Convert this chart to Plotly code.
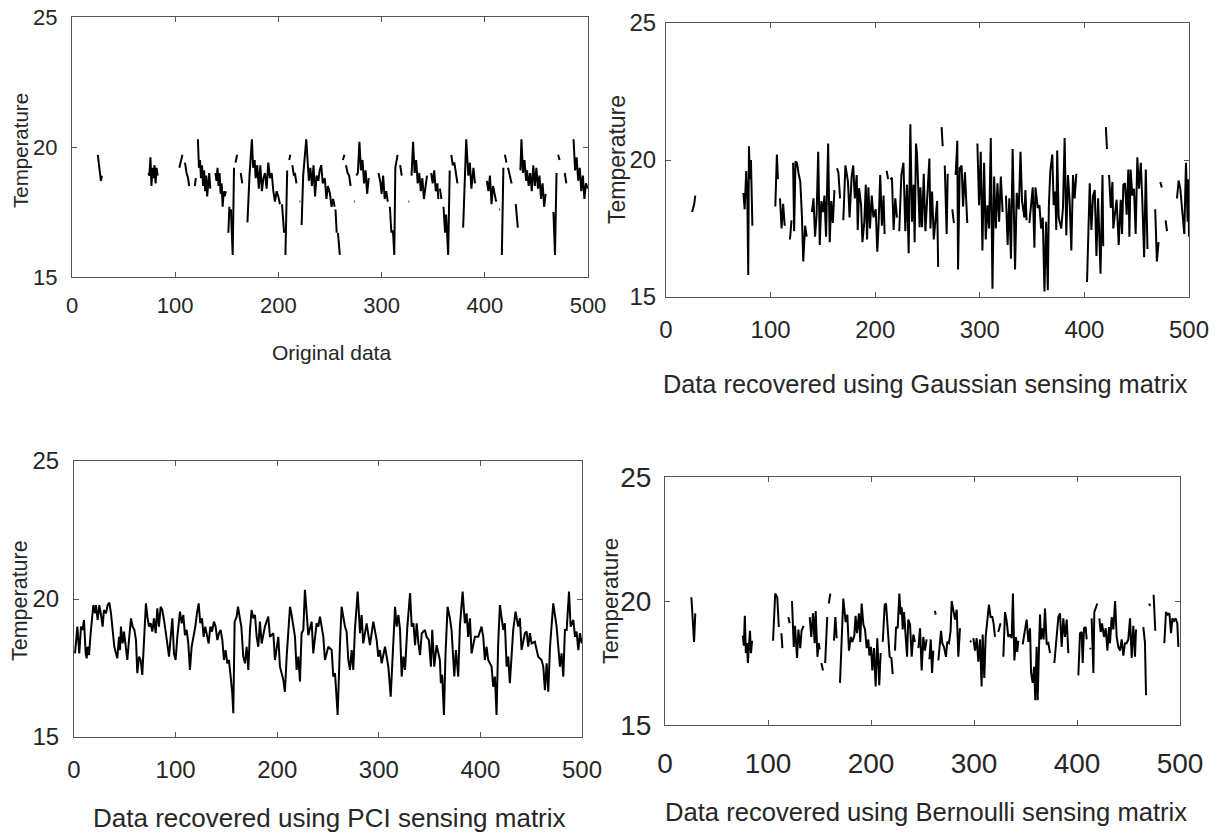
import plotly.graph_objects as go

# ---------------- data (x = sample index, y = temperature) ----------------
orig_pts = [
 (25,19.7),(26,19.4),(27,19.0),(28,18.7),(29,18.9),None,
 (74,19.0),(75,18.9),(76,19.6),(77,18.5),(78,19.2),(79,18.8),(80,19.3),(81,18.6),(82,19.2),(83,18.9),None,
 (104,19.2),(106,19.5),(107,19.7),None,
 (109.5,19.4),(111,19.0),(112.5,18.8),(113.5,18.5),None,
 (119,18.5),(120,18.8),None,
 (122,20.3),(123,19.2),(124,19.5),(125,18.8),(126,19.3),(127,18.5),(128,19.1),(129,18.3),(130,18.9),(131,18.1),(132,18.6),(133,19.0),(134,18.4),None,
 (139,19.0),(140,18.7),(141,19.2),(142,18.5),(143,19.0),(144,18.2),(145,18.6),(146,17.7),(147,18.3),(148,18.1),(149,18.3),None,
 (151.5,16.7),(152.5,17.7),None,
 (154,17.6),(155.7,15.85),(157,19.2),None,
 (158.5,19.4),(160,19.7),None,
 (163.5,19.0),(165,18.6),None,
 (170,17.1),(172,18.9),(174.3,20.3),(175.5,19.2),(177,19.5),(178,18.8),(179.5,19.3),(181,18.4),(182.5,19.3),(184,18.3),(185.5,18.8),(187,19.0),(188.6,18.4),(190.2,19.4),(191.8,18.8),(193.5,19.0),(195.1,18.3),(196.7,17.9),(198.3,18.3),(199.9,18.1),(201.5,17.8),None,
 (203.5,17.8),(205.5,16.7),None,
 (206.8,15.85),(208.5,19.1),None,
 (210.5,19.5),(211.5,19.7),None,
 (213.5,19.3),(215,18.9),(216,19.0),(217.5,18.6),None,
 (220.5,17.9),(221.2,17.9),None,
 (222.5,17.0),(224,18.9),(227,20.3),(228,19.4),(229.5,18.7),(231,19.2),(232.5,18.5),(234,19.3),(235.5,18.1),(237,18.9),(238.7,18.7),(240,19.1),(241.5,19.3),(243,18.6),(245,18.8),(246.5,18.0),(248,18.5),(250,18.2),(251.5,17.7),(253,18.0),(254.5,17.7),None,
 (255.3,17.6),(256.5,16.7),None,
 (257.7,16.7),(259.5,15.85),None,
 (262.5,19.5),(264,19.7),None,
 (265.5,19.3),(267,19.0),(268.5,18.9),(270,18.5),None,
 (273.3,17.9),(274,17.9),None,
 (275.5,18.9),(277,19.0),(278.5,20.2),(280,19.1),(281.5,19.5),(283,18.6),(284.5,19.1),(286,18.2),(287.5,18.8),None,
 (297,19.0),(299,18.6),(300,18.2),(301.5,18.9),(303,18.0),(304.5,18.3),(306,17.9),None,
 (308,17.7),(309.5,16.7),None,
 (311,16.8),(312.3,15.85),(313.3,19.2),(315.5,19.7),None,
 (318,19.3),(319.5,18.9),None,
 (326,17.9),(326.7,17.9),None,
 (329,18.9),(330.5,20.2),(332,19.0),(333.5,19.5),(335,18.6),(336.5,19.0),(338,18.3),(339.5,18.8),(341,18.0),(342.5,18.5),(344,18.9),None,
 (348,19.0),(349.5,18.6),(351,19.1),(352.5,18.3),(354,18.6),(355,18.0),None,
 (356.5,18.4),(358,18.0),None,
 (360,17.7),(361.5,16.7),(362.5,17.4),(364.5,15.85),(366,19.1),None,
 (367.5,19.7),(369,19.3),(370.5,19.4),(372,18.9),(373.5,18.6),None,
 (379,16.9),(380.5,18.9),(382,20.3),(384,18.9),(385.5,19.4),(387,18.4),(389,19.2),(390.5,18.6),None,
 (402,18.7),(403.5,18.3),(405,18.9),(406.5,17.8),(408,18.5),(409.5,18.2),(411,17.9),None,
 (414,17.6),(414.7,17.6),None,
 (416.5,15.85),(418,19.2),None,
 (419.5,19.7),(421,19.4),None,
 (422.5,19.2),(424,18.9),(426,18.6),None,
 (430,17.8),(432,16.9),None,
 (434.5,19.1),(435.5,20.3),(437,19.0),(438.5,19.5),(440,18.7),(441,19.1),(442.5,18.5),(444,19.0),(445.5,18.3),(447,19.3),(448.5,18.5),(450,19.2),(451.5,18.4),(453,18.9),(454.5,18.0),(456,18.6),(457.5,17.7),(459,18.2),None,
 (466.5,17.5),(468,15.85),(469.5,19.0),None,
 (471,19.7),(472.5,19.5),None,
 (477.5,19.0),(479,18.6),None,
 (486,20.3),(487.5,19.1),(489,19.6),(490.5,18.7),(492,19.2),(493.5,18.3),(495,18.9),(496.5,18.0),(498,18.6),(500,18.4),
]

gauss_pts = [
 (25,18.1),(27,18.4),(28,18.7),None,
 (74,18.8),(75.2,18.2),(76.7,19.6),(77.8,18.5),(78.6,15.8),(79.3,20.5),(80.3,19.3),(81.2,20.0),(82.6,17.6),None,
 (104.5,18.3),(106,20.2),(107,19.3),None,
 (109,18.6),(110.5,17.5),(112,18.4),(113.5,17.6),None,
 (118.5,17.1),(120,17.8),None,
 (121.5,19.9),(122.5,17.4),(123.8,19.95),(125.2,19.9),(126.8,19.5),(128.4,19.2),(130,17.9),(131.2,16.3),(133,17.6),(134.5,17.2),None,
 (139.5,18.1),(141,18.6),(142.5,17.2),(144,18.0),(145.5,20.3),(147,16.9),(148.5,18.5),(150,18.1),(151.5,18.7),(153,17.2),(155,20.6),(156.5,17.0),(158,18.5),(159.5,17.7),(161,18.9),None,
 (163.5,19.7),(164.8,19.55),(166.4,18.6),None,
 (169.5,17.8),(171.5,19.8),(174,19.2),(175.5,17.9),(177.5,19.4),(179,19.8),(180.5,18.6),(182.3,19.45),(183.3,17.45),(184.6,18.97),(186.5,18.36),(187.8,17.0),(189.6,17.75),(191,19.1),(192.2,17.1),(193.5,19.0),(195,17.5),(196.7,18.7),(198.3,17.9),(200.5,18.2),(202,16.65),(203.2,17.6),(204.8,19.45),(206.4,17.6),(208,18.7),(209,17.3),None,
 (211,19.6),(212.3,19.3),None,
 (214.4,19.3),(216,19.35),(217.6,17.45),(219.2,18.6),(220.8,17.9),None,
 (223,17.4),(225,19.45),(227,19.9),(228.8,17.4),(230.4,19.1),(232,16.6),(233.6,21.3),(235.2,17.75),(236.8,19.1),(237.7,17.0),(239,20.6),(240,20.2),(242.5,17.55),(243.2,19.0),(244.8,17.55),(246.4,19.5),(248,17.4),(249.6,18.7),(251.8,20.05),(252.8,17.5),(254.4,18.85),(256,17.1),(257.6,18.0),(259.2,18.5),(260.2,16.1),None,
 (263.5,21.2),(264.5,20.5),None,
 (266.5,19.8),(268.3,17.3),(269.3,19.5),None,
 (273.7,18.2),(275.3,17.7),None,
 (276.9,19.45),(278.5,20.7),(279.2,16.0),(280.8,19.7),(282.6,19.8),(284,18.3),(285.8,19.55),(288,17.7),None,
 (297.7,20.6),(299.3,18.35),(300.9,20.3),(302.5,16.7),(304.1,19.9),(305.7,17.1),(307.3,18.35),(308.9,17.5),(310.5,20.8),(312.1,15.3),(313.7,19.4),(315.3,17.5),(316.9,19.15),(318.5,17.75),(320.1,19.4),(321.8,18.1),None,
 (325,18.7),(326.6,16.9),(328.2,18.6),(329.8,16.4),(331.4,20.4),(333.7,16.0),(335.3,18.8),(337.3,18.2),(338.9,20.3),(340.4,18.5),(342.6,17.9),(343.6,18.9),(344.7,17.8),None,
 (347.4,17.7),(349,18.35),(350.6,19.0),(352.2,16.8),(353.2,19.0),(355.4,18.25),(357,18.35),(358.6,17.5),(360.2,17.9),(361.8,15.2),(363.4,17.75),(365,15.25),(366,18.3),(367.4,19.6),(369.3,20.2),(370.6,18.35),(372.2,18.85),(373.1,17.45),(374,20.35),(375.4,17.9),(377.9,17.5),(379.5,18.25),(381.1,20.8),(382.7,17.25),(384.3,19.45),(385.9,18.5),(387.5,16.7),(389.1,19.45),(390.7,18.6),(392.3,19.5),None,
 (402.5,15.55),(405.1,19.15),(406.7,17.45),(408.3,18.7),(409.9,18.9),(411.5,16.5),(413.1,18.6),(415.4,15.85),(417.3,19.45),(418,16.85),None,
 (420.5,21.2),(421.6,20.4),None,
 (423.6,19.45),(425.2,18.25),(426.8,19.2),(427.6,17.5),(430.8,18.55),(432.8,16.9),(434.7,18.55),(436,17.3),(437.2,19.1),(438.8,19.15),(440.4,18.0),(442,19.65),(443,17.2),(444.2,19.65),(445.8,18.7),(447.4,18.95),(449,17.3),(450.6,20.1),(452.2,18.95),(453.9,19.9),(455.2,18.7),(457.1,16.45),(458.7,19.65),(460.3,16.75),None,
 (467.7,18.2),(469.3,16.3),(470.9,17.0),None,
 (472.6,19.2),(474,19.0),None,
 (477.6,17.8),(479,17.4),None,
 (488.5,18.6),(490.1,19.25),(491.7,18.95),(493.3,18.35),(495.5,17.3),(497.1,19.9),(498.7,17.75),(499.4,19.3),(500,17.2),
]

pci_pts = [
 (1.0,18.03),(3.3,19.0),(5.2,18.03),(6.9,19.0),(8.5,18.88),(9.8,19.24),(11.5,18.03),(12.5,17.85),(13.4,18.27),(14.8,17.97),(16.4,18.76),(17.7,19.42),(19.0,19.78),(20.7,19.48),(21.6,19.78),(23.3,19.24),(24.9,19.78),(26.6,19.42),(28.2,19.0),(29.5,19.6),(31.5,19.48),(33.1,19.78),(34.8,19.87),(36.4,19.48),(38.0,19.0),(39.7,18.27),(41.3,18.03),(42.6,17.85),(44.3,18.63),(45.3,18.15),(46.2,19.0),(47.9,18.39),(49.2,18.82),(51.2,18.27),(52.5,17.79),(54.1,18.51),(56.1,19.3),(57.7,19.0),(59.4,18.88),(61.0,18.51),(62.3,17.31),(64.0,17.91),(65.6,17.79),(67.2,17.25),(68.9,18.63),(70.8,19.84),(72.2,19.36),(73.8,19.0),(75.4,19.12),(77.1,18.82),(78.7,19.3),(80.4,18.76),(82.0,19.66),(83.6,19.0),(85.3,19.72),(86.9,19.6),(88.6,19.24),(90.2,18.88),(91.8,18.39),(93.5,17.91),(95.1,18.63),(96.8,19.3),(98.4,18.03),(100.0,17.79),(101.7,18.63),(104.3,19.54),(106.0,19.12),(107.6,19.42),(109.2,18.69),(110.9,18.88),(112.5,18.39),(114.1,17.43),(115.8,18.27),(117.4,18.57),(119.4,19.0),(121.0,19.48),(122.7,19.84),(124.3,19.12),(126.0,19.3),(127.6,18.63),(129.2,19.0),(130.9,18.69),(132.5,18.39),(134.2,19.0),(135.8,18.82),(137.8,19.18),(139.4,19.0),(141.1,18.51),(142.7,18.76),(144.3,18.88),(146.0,18.51),(147.6,17.79),(149.2,18.15),(150.9,17.67),(152.5,17.79),(154.2,17.19),(155.8,16.58),(156.8,15.86),(158.1,19.18),(160.1,19.36),(161.4,19.72),(163.0,19.36),(164.7,19.0),(166.6,17.91),(168.3,17.67),(169.9,18.27),(171.6,17.43),(173.2,18.88),
 (174.8,19.6),(176.5,19.3),(178.1,19.42),(179.8,18.63),(181.4,18.27),(183.0,19.18),(184.7,18.39),(187.9,19.0),(191.2,19.36),(192.9,18.63),(196.2,18.76),(197.8,17.79),(201.1,18.63),(202.7,17.55),(206.0,17.07),(207.6,16.64),(209.3,17.91),(212.6,19.72),(214.2,19.42),(217.5,18.63),(219.1,17.43),(220.8,17.91),(222.4,17.01),(224.0,18.76),(225.7,18.88),(227.3,20.33),(229.0,19.36),(230.6,18.69),(233.9,19.18),(235.5,18.03),(238.8,19.12),(240.5,19.0),(242.1,19.36),(245.4,18.63),(247.0,17.79),(250.3,18.27),(253.6,18.15),(255.2,17.19),(256.9,17.31),(259.5,15.8),(261.8,18.39),(263.4,19.72),(266.7,19.0),(268.3,18.82),(270.0,17.79),(271.6,17.43),(273.3,18.15),(274.9,17.43),(276.5,18.88),(279.2,20.27),(281.5,18.76),(283.1,19.42),(284.7,18.39),(288.0,19.12),(291.3,18.33),(294.6,19.18),(297.9,18.51),(299.5,17.91),(301.1,18.15),(302.8,17.67),(306.1,18.27),(309.4,17.55),(311.7,16.46),(314.3,18.27),(316.0,19.72),(317.6,19.0),(319.3,19.42),(320.9,18.88),(322.5,17.19),(324.2,17.91),(325.8,17.43),(328.1,19.0),(330.8,20.21),(332.4,19.0),(334.1,19.12),(335.7,18.33),(337.3,19.12),(339.0,18.39),(340.6,17.97),(342.3,18.76),(345.4,18.88),
 (347.0,18.63),(349.3,18.51),(351.3,17.55),(352.6,18.88),(354.6,17.55),(356.9,18.33),(360.1,17.79),(361.1,16.95),(362.4,17.25),(364.1,15.8),(365.7,18.03),(367.7,19.72),(370.0,19.3),(371.6,18.88),(374.3,17.19),(375.9,18.15),(378.2,17.19),(379.8,19.0),(382.5,20.27),(384.7,19.12),(386.4,19.48),(388.0,18.63),(389.7,19.3),(391.3,18.03),(394.6,18.63),(397.9,18.63),(401.1,19.0),(402.8,18.63),(404.4,17.79),(406.1,18.27),(407.7,17.79),(411.0,17.55),(412.6,16.82),(414.3,17.19),(415.9,15.8),(417.5,18.39),(419.2,19.78),(420.8,19.3),(422.5,18.88),(424.1,19.12),(425.8,17.55),(427.4,17.91),(429.0,16.95),(432.3,18.88),(434.6,19.54),(437.2,19.0),(438.9,19.3),(440.5,18.15),(443.8,18.76),(445.5,18.82),(447.1,18.27),(448.7,18.76),(450.4,18.39),(453.6,18.45),(456.9,17.91),(460.2,17.79),(461.9,17.55),(463.5,16.7),(465.2,17.67),(466.8,16.64),(468.5,18.27),(471.7,19.84),(475.0,19.0),(478.3,17.55),(479.9,18.03),(481.6,17.19),(483.2,18.88),(484.9,18.88),(487.2,20.27),(488.8,19.0),(491.5,19.24),(493.1,18.63),(494.7,18.82),(496.4,18.15),(498.0,18.76),(499.7,18.39),
]

bern_pts = [
 (25.6,20.15),(28.2,18.35),(29.4,19.5),None,
 (75.5,18.6),(76.5,18.2),(77.5,19.4),(78.5,17.9),(79.5,18.3),(80.5,17.5),(81.5,18.2),(82.5,18.8),(83.5,17.9),(84.5,18.4),None,
 (104.9,18.4),(107,20.3),(109,20.15),(110.5,18.95),None,
 (113,18.7),(114,18.1),None,
 (119.8,19.35),(121,19.1),None,
 (123.3,20.0),(125,18.15),(126.2,19.0),(128.2,17.7),(129.5,18.85),(131.3,18.1),(132.6,18.8),(134.5,19.0),None,
 (140.5,19.35),(142,18.55),(143.7,19.5),(145.3,18.3),(146.3,19.6),(148,17.75),(149.3,18.3),(150.2,18.05),None,
 (151.8,17.5),(153.4,17.2),None,
 (155.5,17.5),(157.5,19.35),None,
 (159,19.9),(160.5,20.3),None,
 (164,18.4),(165.4,19.35),(166.7,18.5),None,
 (169.9,16.7),(173.1,20.1),(175.4,19.15),(177,19.45),(178.6,18.0),(180.6,18.55),(181.9,18.35),(183.8,18.6),(185,19.4),(186.4,18.7),(188.3,19.5),(189.6,18.35),(190.9,19.9),(192.6,19.05),(194.2,18.85),(195.8,18.1),(197.4,18.45),(198.4,17.8),(200,18.15),(201.3,17.2),(202.9,18.1),(204.5,16.55),(206.1,18.5),(208,16.6),(209.4,17.9),None,
 (211.4,18.35),(213.3,19.85),(214.6,19.9),(216.5,18.9),(218.1,17.75),(219.8,17.7),(221.1,17.05),None,
 (223.3,18.0),(224.3,18.95),(225.9,18.9),(227.5,20.3),(228.8,19.45),(229.8,19.75),(230.8,18.85),(232.1,19.55),(233.7,18.55),(235,17.75),(236.2,19.25),(237.9,19.05),(239.5,17.75),(241.1,18.65),(242.7,18.35),None,
 (246,18.1),(247.6,18.9),(249.2,17.2),(250.8,18.55),(252.4,18.0),(254,18.45),None,
 (256.7,17.65),(258,18.45),(259.3,17.1),(260.5,18.0),None,
 (262.1,19.6),(262.8,19.45),None,
 (265.4,17.6),(268,18.8),(269.2,18.3),(270.8,18.15),(272.8,17.75),(274,18.35),(275.7,18.3),(277.3,18.8),(278.3,20.0),(279.9,19.65),(281.6,19.25),(283.2,19.65),(284.8,17.75),(286.4,18.9),None,
 (296.1,18.4),(297.5,18.35),None,
 (299.4,18.5),(301,18.0),(302.6,18.5),(304.2,17.55),(305.8,18.45),(307.4,16.55),(308.4,18.65),(310,16.9),(311.3,18.55),(312.9,19.35),(314.5,19.85),(316.1,19.35),(317.8,19.35),(319,19.1),(320.4,18.55),None,
 (323.6,18.75),(325.8,19.1),None,
 (328.5,17.75),(330.1,19.55),(331.7,19.2),(333.3,18.55),(335,18.65),(336.6,18.5),(337.8,20.3),(339.2,17.6),(340.8,18.55),(342,17.95),(343,18.4),None,
 (347.3,18.25),(349.5,18.9),(351.1,19.25),(352.8,18.35),(354.4,18.9),(355.4,17.1),(357,16.7),(358.3,17.35),(359.5,16.0),(360.8,18.15),(361.8,16.0),(363.1,18.1),(364.1,19.45),(365,18.45),(366.3,18.9),(367.6,18.45),(368.9,19.7),(370.6,18.25),(372.2,18.3),(373.8,17.9),None,
 (378,17.5),(380.3,18.7),(381.9,19.35),(383.5,19.5),(385.1,18.15),(386.7,19.3),(388.3,18.55),(390,19.25),(391.6,17.9),None,
 (401.3,17.0),(402.9,18.7),(404.5,18.75),(405.5,17.5),(406.8,18.9),(408.4,18.95),(409.4,18.45),None,
 (412.6,18.1),(413.3,18.05),None,
 (414.2,19.3),(415.9,17.1),(416.8,19.55),(418.4,19.75),(419.7,19.9),None,
 (421.7,19.3),(423,18.75),(424.3,19.1),(426.2,18.55),(427.9,18.9),(429.5,18.0),(431.1,18.95),(432,18.3),(433.7,19.35),(435.3,18.85),(437,20.0),(438.5,18.55),(440.1,18.15),(441.7,18.0),(443.4,18.45),(445,17.8),(446.6,18.3),(448.2,18.3),(449.8,18.45),(451.5,19.3),(453.1,17.7),(454.7,19.0),(456.3,17.75),(457.3,18.85),None,
 (464.4,18.95),(466,18.3),(467,16.2),None,
 (470.2,19.9),(470.9,19.8),None,
 (474.4,20.25),(476,18.8),None,
 (484.8,18.3),(486.4,19.55),(488,19.45),(489.7,19.5),(491.3,18.7),(492.6,19.3),(494.2,19.2),(495.8,19.3),(497.4,19.1),(498.4,18.15),
]

x_ticks = [0, 100, 200, 300, 400, 500]
y_ticks = [15, 20, 25]
panel_titles = ["Original data", "Data recovered using Gaussian sensing matrix",
                "Data recovered using PCI sensing matrix", "Data recovered using Bernoulli sensing matrix"]
y_title = "Temperature"

# ---------------- figure ----------------
W, H = 1224, 838
FONT = "Liberation Sans, Arial, Helvetica, sans-serif"
TXT = "#262626"
AX = "#555555"

def unzip(pts):
    xs = [p[0] if p is not None else None for p in pts]
    ys = [p[1] if p is not None else None for p in pts]
    return xs, ys

series = [orig_pts, gauss_pts, pci_pts, bern_pts]
# panel boxes in pixels: left, right, top, bottom
boxes = [(72, 588, 17, 277), (666, 1189, 23, 297), (74, 582, 461, 737), (665, 1180, 477, 725)]
tick_sizes = [22, 24, 24, 28]
x_standoff = [9, 11, 11, 13]
y_standoff = [9, 4, 9, 7]

fig = go.Figure()
for i, pts in enumerate(series):
    xs, ys = unzip(pts)
    sfx = "" if i == 0 else str(i + 1)
    fig.add_trace(go.Scatter(x=xs, y=ys, mode="lines", connectgaps=False,
                             line=dict(color="black", width=2),
                             xaxis="x" + sfx, yaxis="y" + sfx, showlegend=False,
                             hoverinfo="skip"))

layout = dict(width=W, height=H, margin=dict(l=0, r=0, t=0, b=0, pad=0, autoexpand=False),
              paper_bgcolor="white", plot_bgcolor="white", showlegend=False)
for i, (l, r, t, b) in enumerate(boxes):
    sfx = "" if i == 0 else str(i + 1)
    fs = tick_sizes[i]
    common = dict(showline=True, mirror="ticks", linecolor=AX, linewidth=1,
                  ticks="inside", ticklen=5, tickcolor=AX, showgrid=False,
                  zeroline=False, automargin=False,
                  tickfont=dict(family=FONT, size=fs, color=TXT))
    layout["xaxis" + sfx] = dict(domain=[l / W, r / W], range=[0, 500], tickvals=x_ticks,
                                 anchor="y" + sfx, ticklabelstandoff=x_standoff[i], **common)
    layout["yaxis" + sfx] = dict(domain=[1 - b / H, 1 - t / H], range=[15, 25], tickvals=y_ticks,
                                 anchor="x" + sfx, ticklabelstandoff=y_standoff[i], **common)
fig.update_layout(**layout)

# panel captions and y titles (pixel positions converted to paper coordinates)
captions = [(331, 352, 21), (925, 384, 25.3), (329, 818, 26), (926, 812, 25.6)]
ytitles = [(20, 151, 20.5), (617, 160, 23), (20, 601, 21.5), (610, 601, 22.5)]
for (cx, cy, fs), txt in zip(captions, panel_titles):
    fig.add_annotation(x=cx / W, y=1 - cy / H, xref="paper", yref="paper", text=txt,
                       showarrow=False, xanchor="center", yanchor="middle",
                       font=dict(family=FONT, size=fs, color=TXT))
for (cx, cy, fs) in ytitles:
    fig.add_annotation(x=cx / W, y=1 - cy / H, xref="paper", yref="paper", text=y_title,
                       textangle=-90, showarrow=False, xanchor="center", yanchor="middle",
                       font=dict(family=FONT, size=fs, color=TXT))

fig.write_html("out.html")
